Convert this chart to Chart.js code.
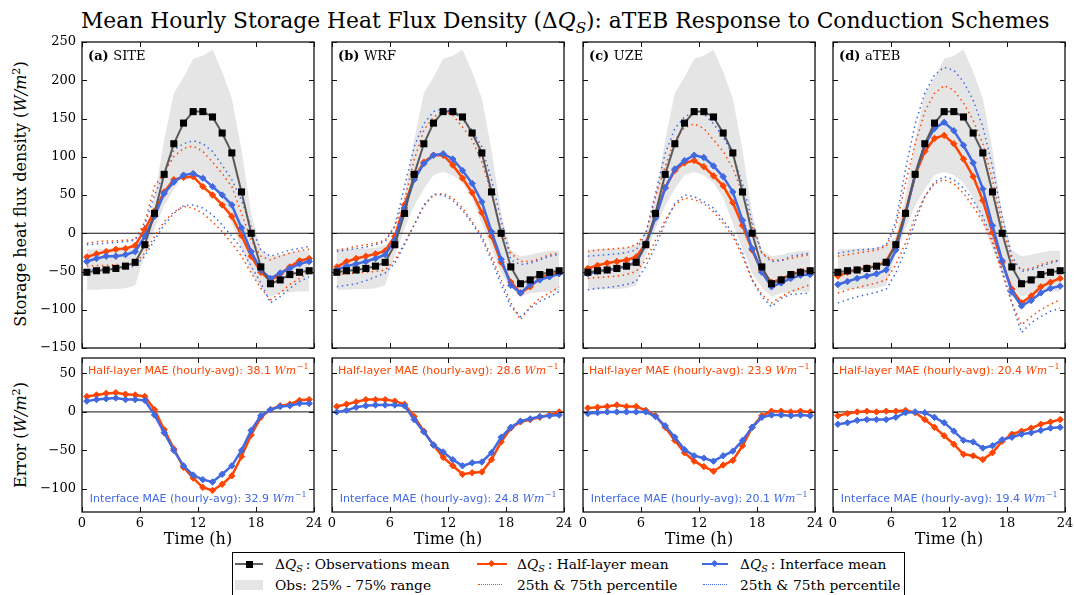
<!DOCTYPE html>
<html>
<head>
<meta charset="utf-8">
<script src="https://cdn.jsdelivr.net/npm/chart.js@4/dist/chart.umd.min.js"></script>
<style>
  body { margin: 0; width: 1075px; height: 595px; background: #fff; position: relative; overflow: hidden;
         font-family: 'DejaVu Serif', serif; color: #000; }
  canvas { position: absolute; }
  #title { position: absolute; left: 81px; top: 7px; font-size: 21.8px; line-height: 28px; white-space: nowrap; }
  .ytitle { position: absolute; font-size: 16px; white-space: nowrap; transform: translate(-50%, -50%) rotate(-90deg); }
  .sub { font-size: 0.7em; vertical-align: -0.3em; font-style: italic; }
  .sup { font-size: 0.7em; vertical-align: 0.5em; }
  #legend { position: absolute; left: 232px; top: 552px; width: 671px; height: 50px; border: 1px solid #000; background: #fff; }
  #legend .t { position: absolute; font-size: 13.8px; line-height: 18px; white-space: nowrap; }
  #legend .s { position: absolute; }
</style>
</head>
<body>
<div id="title">Mean Hourly Storage Heat Flux Density (Δ<i>Q</i><span class="sub">S</span>): aTEB Response to Conduction Schemes</div>
<div class="ytitle" style="left:20px; top:194px">Storage heat flux density (<i>W/m</i><span class="sup">2</span>)</div>
<div class="ytitle" style="left:20px; top:435px">Error (<i>W/m</i><span class="sup">2</span>)</div>

<div id="legend">
  <div class="s" style="left:2px; top:10px; width:28px; border-top:2px solid #606060"></div>
  <div class="s" style="left:13px; top:8px; width:7px; height:7px; background:#000"></div>
  <div class="t" style="left:42px; top:2px">Δ<i>Q</i><span class="sub">S</span>&#8201;: Observations mean</div>
  <div class="s" style="left:2px; top:27px; width:28px; height:10px; background:#e5e5e5"></div>
  <div class="t" style="left:42px; top:23px">Obs: 25% - 75% range</div>

  <div class="s" style="left:244px; top:10px; width:30px; border-top:2.5px solid #ff4500"></div>
  <div class="s" style="left:256px; top:8px; width:5px; height:5px; background:#ff4500; transform:rotate(45deg)"></div>
  <div class="t" style="left:284px; top:2px">Δ<i>Q</i><span class="sub">S</span>&#8201;: Half-layer mean</div>
  <div class="s" style="left:245px; top:31px; width:24px; border-top:1.5px dotted #ff4500"></div>
  <div class="t" style="left:284px; top:23px">25th &amp; 75th percentile</div>

  <div class="s" style="left:469px; top:10px; width:26px; border-top:2.5px solid #4169e1"></div>
  <div class="s" style="left:479px; top:8px; width:5px; height:5px; background:#4169e1; transform:rotate(45deg)"></div>
  <div class="t" style="left:507px; top:2px">Δ<i>Q</i><span class="sub">S</span>&#8201;: Interface mean</div>
  <div class="s" style="left:470px; top:31px; width:24px; border-top:1.5px dotted #4169e1"></div>
  <div class="t" style="left:507px; top:23px">25th &amp; 75th percentile</div>
</div>

<script>
// ---- data -------------------------------------------------------------
const hours = [0.5, 1.5, 2.5, 3.5, 4.5, 5.5, 6.5, 7.5, 8.5, 9.5, 10.5, 11.5,
               12.5, 13.5, 14.5, 15.5, 16.5, 17.5, 18.5, 19.5, 20.5, 21.5, 22.5, 23.5];
const xLimits = [0, 24];
const hourTicks = [0, 6, 12, 18, 24];
const fluxTicks = [-150, -100, -50, 0, 50, 100, 150, 200, 250];
const errTicks = [-100, -50, 0, 50];
const fluxLimits = [-150, 250];
const errLimits = [-130, 70];

const panelLetters = ['(a)', '(b)', '(c)', '(d)'];
const panelNames = ['SITE', 'WRF', 'UZE', 'aTEB'];
const maeHalf = [38.1, 28.6, 23.9, 20.4];
const maeInterface = [32.9, 24.8, 20.1, 19.4];

// observations (same in every panel)
const obsMean = [-51, -49, -48, -46, -43, -38, -15, 26, 77, 117, 144, 159, 159, 152, 131, 105, 54, 0, -44, -66, -61, -54, -51, -49];
const obsP75 = [-21, -21, -20, -20, -19, -15, -4, 48, 122, 183, 204, 228, 232, 240, 211, 176, 109, 26, -22, -30, -28, -25, -23, -23];
const obsP25 = [-74, -74, -73, -73, -72, -68, -28, 6, 36, 58, 76, 80, 76, 66, 46, 13, -20, -52, -71, -83, -78, -77, -76, -76];

// half-layer scheme, one row per panel (SITE, WRF, UZE, aTEB)
const halfMean = [
  [-31, -27, -24, -21, -20, -16, 5, 29, 54, 70, 73, 74, 61, 50, 37, 22, -3, -30, -51, -62, -53, -44, -36, -33],
  [-44, -37, -33, -30, -27, -23, -4, 37, 72, 93, 102, 102, 89, 72, 53, 27, -4, -38, -64, -78, -70, -59, -54, -52],
  [-46, -42, -39, -37, -35, -31, -13, 22, 60, 82, 92, 95, 87, 75, 62, 40, 10, -22, -50, -64, -60, -54, -50, -49],
  [-56, -51, -48, -45, -43, -37, -14, 28, 76, 107, 124, 128, 117, 97, 74, 43, 1, -38, -73, -91, -82, -70, -64, -59]
];
const halfP75 = [
  [-13, -11, -10, -10, -9, -8, 15, 61, 80, 100, 111, 114, 107, 93, 78, 61, 26, -9, -30, -35, -30, -26, -23, -21],
  [-22, -20, -17, -15, -13, -9, 9, 43, 96, 135, 152, 160, 154, 139, 122, 93, 52, 4, -26, -37, -37, -33, -28, -26],
  [-24, -22, -21, -20, -19, -15, 0, 48, 87, 122, 138, 143, 137, 122, 107, 85, 52, 9, -26, -35, -35, -33, -30, -28],
  [-30, -28, -26, -24, -22, -17, 9, 65, 117, 159, 183, 193, 187, 170, 148, 117, 70, 9, -35, -48, -46, -41, -37, -35]
];
const halfP25 = [
  [-43, -42, -42, -41, -40, -39, -26, -4, 15, 28, 35, 33, 26, 15, 2, -13, -30, -52, -72, -87, -78, -67, -59, -52],
  [-54, -53, -52, -51, -50, -48, -35, -13, 11, 35, 50, 52, 46, 33, 15, -4, -30, -61, -91, -113, -96, -85, -78, -70],
  [-59, -58, -57, -56, -54, -50, -35, -9, 17, 37, 46, 44, 39, 28, 13, -4, -30, -61, -80, -91, -83, -76, -72, -67],
  [-78, -74, -71, -68, -65, -61, -41, -13, 22, 48, 65, 70, 65, 52, 35, 15, -13, -52, -91, -120, -109, -100, -93, -87]
];
const halfErr = [
  [20, 22, 24, 25, 23, 22, 20, 3, -23, -48, -72, -86, -98, -102, -94, -83, -58, -30, -7, 3, 8, 10, 15, 16],
  [7, 10, 13, 16, 16, 16, 14, 10, -6, -25, -43, -59, -70, -81, -79, -78, -62, -39, -21, -13, -10, -7, -4, 0],
  [5, 6, 7, 9, 7, 7, 2, -5, -20, -37, -53, -64, -71, -77, -69, -63, -44, -20, -5, 1, 1, 0, 1, 0],
  [-5, -2, 0, 1, 0, 1, 1, 2, -1, -10, -20, -31, -42, -55, -57, -62, -53, -38, -29, -25, -21, -16, -13, -10]
];

// interface scheme
const ifaceMean = [
  [-37, -33, -30, -30, -28, -24, -4, 22, 52, 67, 76, 78, 72, 61, 50, 37, 7, -24, -48, -59, -52, -46, -40, -37],
  [-48, -43, -40, -37, -33, -28, -9, 33, 70, 91, 102, 104, 97, 82, 65, 41, 2, -34, -68, -78, -67, -61, -57, -53],
  [-53, -50, -48, -46, -43, -38, -15, 20, 59, 84, 95, 102, 99, 88, 74, 54, 17, -20, -51, -70, -65, -59, -55, -54],
  [-67, -63, -59, -56, -53, -48, -22, 25, 77, 116, 137, 145, 134, 115, 92, 58, 10, -36, -77, -95, -88, -78, -72, -69]
];
const ifaceP75 = [
  [-15, -14, -13, -12, -11, -9, 11, 50, 78, 109, 117, 121, 117, 107, 89, 70, 43, 9, -22, -30, -26, -22, -20, -17],
  [-24, -22, -20, -18, -15, -11, 9, 61, 113, 143, 159, 163, 159, 148, 135, 113, 70, 17, -35, -41, -39, -35, -30, -28],
  [-30, -29, -28, -27, -25, -22, 0, 52, 104, 137, 152, 159, 156, 143, 126, 102, 65, 15, -26, -37, -36, -30, -28, -26],
  [-26, -24, -22, -21, -20, -15, 15, 83, 143, 183, 207, 217, 213, 198, 174, 139, 87, 22, -30, -50, -48, -43, -39, -35]
];
const ifaceP25 = [
  [-48, -47, -47, -46, -45, -43, -30, -9, 11, 26, 36, 37, 33, 24, 11, -4, -20, -43, -65, -91, -83, -72, -63, -57],
  [-70, -68, -66, -62, -57, -52, -39, -15, 11, 37, 51, 50, 43, 30, 13, -7, -35, -67, -96, -109, -98, -89, -83, -76],
  [-74, -72, -71, -69, -67, -63, -43, -17, 13, 39, 50, 48, 41, 33, 17, 0, -26, -61, -83, -96, -85, -80, -79, -78],
  [-91, -87, -83, -80, -77, -73, -52, -22, 15, 48, 67, 74, 70, 59, 43, 22, -9, -48, -91, -130, -117, -109, -102, -98]
];
const ifaceErr = [
  [14, 16, 17, 18, 16, 16, 15, -4, -27, -50, -70, -82, -88, -91, -81, -70, -50, -24, -5, 3, 7, 8, 11, 11],
  [0, 2, 6, 8, 9, 9, 9, 8, -10, -26, -43, -52, -62, -70, -66, -65, -53, -33, -20, -12, -9, -6, -5, -4],
  [-2, -1, 0, 0, 0, 0, 0, -6, -18, -33, -49, -57, -60, -64, -57, -51, -37, -20, -7, -4, -4, -5, -4, -5],
  [-16, -14, -11, -10, -10, -10, -7, -1, 0, -1, -7, -14, -25, -37, -39, -47, -44, -36, -33, -29, -27, -24, -21, -20]
];

// ---- style ------------------------------------------------------------
const ORANGE = '#ff4500';
const BLUE = '#4169e1';
const OBS_LINE = '#5a5a5a';
const BAND = '#e5e5e5';
const SERIF = "'DejaVu Serif', serif";

// panel geometry (plot areas)
const colLeft = [82, 332, 583, 833];
const PLOT_W = 232;
const rows = [
  { top: 42, height: 306 },
  { top: 358, height: 154 }
];

const pts = arr => arr.map((v, i) => ({ x: hours[i], y: v }));
const fmt = v => (v < 0 ? '\u2212' + Math.abs(v) : String(v));

function drawMae(ctx, label, value, color, cx, cy) {
  const main = label + ' MAE (hourly-avg): ' + value.toFixed(1) + ' ';
  const fMain = "11px 'DejaVu Sans', sans-serif";
  const fIt = "italic 11px " + SERIF;
  const fSup = "8px " + SERIF;
  ctx.font = fMain; const w1 = ctx.measureText(main).width;
  ctx.font = fIt; const w2 = ctx.measureText('Wm').width;
  ctx.font = fSup; const w3 = ctx.measureText('\u22121').width;
  const x0 = cx - (w1 + w2 + w3) / 2;
  ctx.fillStyle = color;
  ctx.textAlign = 'left';
  ctx.textBaseline = 'middle';
  ctx.font = fMain; ctx.fillText(main, x0, cy);
  ctx.font = fIt; ctx.fillText('Wm', x0 + w1, cy);
  ctx.font = fSup; ctx.fillText('\u22121', x0 + w1 + w2 + 0.5, cy - 4);
}

// frame, inward ticks on all sides, and panel texts
const panelDecor = {
  id: 'panelDecor',
  afterDatasetsDraw(chart, args, opts) {
    const { ctx, chartArea: a, scales: { x, y } } = chart;
    ctx.save();
    ctx.strokeStyle = '#111';
    ctx.lineWidth = 1;
    ctx.beginPath();
    x.ticks.forEach(t => {
      const px = Math.round(x.getPixelForValue(t.value)) + 0.5;
      ctx.moveTo(px, a.bottom); ctx.lineTo(px, a.bottom - 5);
      ctx.moveTo(px, a.top); ctx.lineTo(px, a.top + 5);
    });
    y.ticks.forEach(t => {
      const py = Math.round(y.getPixelForValue(t.value)) + 0.5;
      ctx.moveTo(a.left, py); ctx.lineTo(a.left + 5, py);
      ctx.moveTo(a.right, py); ctx.lineTo(a.right - 5, py);
    });
    ctx.stroke();
    ctx.lineWidth = 1.3;
    ctx.strokeRect(a.left, a.top, a.right - a.left, a.bottom - a.top);

    if (opts.letter) {
      ctx.fillStyle = '#000';
      ctx.textAlign = 'left';
      ctx.textBaseline = 'middle';
      ctx.font = 'bold 13px ' + SERIF;
      ctx.fillText(opts.letter, a.left + 6, a.top + 15);
      const w = ctx.measureText(opts.letter + ' ').width;
      ctx.font = '13px ' + SERIF;
      ctx.fillText(opts.name, a.left + 6 + w, a.top + 15);
    }
    if (opts.half != null) {
      const cx = (a.left + a.right) / 2;
      drawMae(ctx, 'Half-layer', opts.half, ORANGE, cx, a.top + 13);
      drawMae(ctx, 'Interface', opts.iface, BLUE, cx, a.bottom - 13);
    }
    ctx.restore();
  }
};

function lineSet(data, color, extra) {
  return Object.assign({
    data: pts(data), borderColor: color, backgroundColor: color,
    borderWidth: 2.5, pointRadius: 0, fill: false, tension: 0
  }, extra || {});
}

function zeroSet() {
  return {
    data: xLimits.map(v => ({ x: v, y: 0 })), borderColor: '#111', borderWidth: 1,
    pointRadius: 0, fill: false
  };
}

function topDatasets(p) {
  const meanMarker = c => ({ pointStyle: 'rectRot', pointRadius: 3.2, pointBackgroundColor: c, pointBorderColor: c, pointBorderWidth: 1 });
  const dotted = { borderWidth: 1.5, borderDash: [1.5, 3.5] };
  return [
    lineSet(obsMean, OBS_LINE, { borderWidth: 2, pointStyle: 'rect', pointRadius: 5, pointBackgroundColor: '#000', pointBorderColor: '#000', pointBorderWidth: 0 }),
    lineSet(ifaceMean[p], BLUE, meanMarker(BLUE)),
    lineSet(halfMean[p], ORANGE, meanMarker(ORANGE)),
    lineSet(ifaceP75[p], BLUE, dotted),
    lineSet(ifaceP25[p], BLUE, dotted),
    lineSet(halfP75[p], ORANGE, dotted),
    lineSet(halfP25[p], ORANGE, dotted),
    zeroSet(),
    lineSet(obsP75, 'rgba(0,0,0,0)', { borderWidth: 0, fill: '+1', backgroundColor: BAND }),
    lineSet(obsP25, 'rgba(0,0,0,0)', { borderWidth: 0 })
  ];
}

function bottomDatasets(p) {
  const marker = c => ({ pointStyle: 'rectRot', pointRadius: 3.2, pointBackgroundColor: c, pointBorderColor: c, pointBorderWidth: 1 });
  return [
    lineSet(ifaceErr[p], BLUE, marker(BLUE)),
    lineSet(halfErr[p], ORANGE, marker(ORANGE)),
    zeroSet()
  ];
}

function makePanel(row, col) {
  const isBottom = row === 1;
  const yw = col === 0 ? 82 : 14;
  const pr = 14, pt = 14;
  const xh = isBottom ? 40 : 14;
  const r = rows[row];
  const canvas = document.createElement('canvas');
  const W = yw + PLOT_W + pr;
  const H = pt + r.height + xh;
  canvas.width = W; canvas.height = H;
  canvas.style.left = (colLeft[col] - yw) + 'px';
  canvas.style.top = (r.top - pt) + 'px';
  canvas.style.width = W + 'px'; canvas.style.height = H + 'px';
  document.body.appendChild(canvas);

  const yTicks = isBottom ? errTicks : fluxTicks;
  const yLim = isBottom ? errLimits : fluxLimits;
  const tickFont = { family: SERIF, size: 13 };

  new Chart(canvas, {
    type: 'line',
    data: { datasets: isBottom ? bottomDatasets(col) : topDatasets(col) },
    options: {
      responsive: false, animation: false, devicePixelRatio: 1,
      layout: { padding: { left: 0, right: pr, top: pt, bottom: 0 } },
      plugins: {
        legend: { display: false }, tooltip: { enabled: false },
        panelDecor: isBottom
          ? { half: maeHalf[col], iface: maeInterface[col] }
          : { letter: panelLetters[col], name: panelNames[col] }
      },
      scales: {
        x: {
          type: 'linear', min: xLimits[0], max: xLimits[1],
          afterBuildTicks: s => { s.ticks = hourTicks.map(v => ({ value: v })); },
          afterFit: s => { s.height = xh; },
          grid: { display: false, drawTicks: false }, border: { display: false },
          ticks: { display: isBottom, padding: 4, color: '#000', font: tickFont, maxRotation: 0, autoSkip: false, callback: fmt },
          title: { display: isBottom, text: 'Time (h)', color: '#000', font: { family: SERIF, size: 16 }, padding: { top: 0, bottom: 3 } }
        },
        y: {
          type: 'linear', min: yLim[0], max: yLim[1],
          afterBuildTicks: s => { s.ticks = yTicks.map(v => ({ value: v })); },
          afterFit: s => { s.width = yw; },
          grid: { display: false, drawTicks: false }, border: { display: false },
          ticks: { display: col === 0, padding: 6, color: '#000', font: tickFont, autoSkip: false, callback: fmt }
        }
      }
    },
    plugins: [panelDecor]
  });
}

for (let row = 0; row < 2; row++) {
  for (let col = 0; col < 4; col++) makePanel(row, col);
}
</script>
</body>
</html>
